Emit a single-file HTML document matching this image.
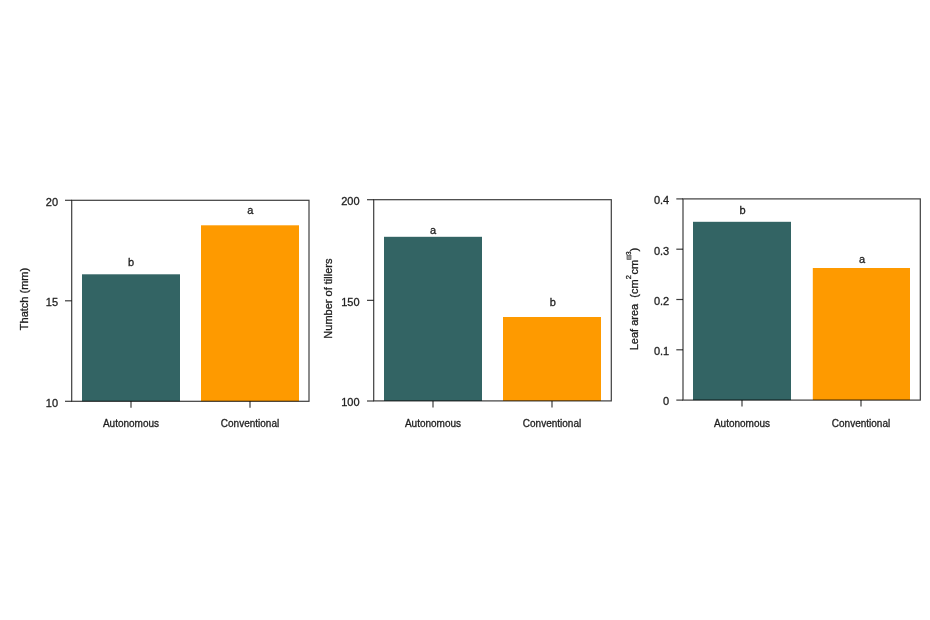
<!DOCTYPE html>
<html><head><meta charset="utf-8"><style>
html,body{margin:0;padding:0;background:#fff;}
svg{display:block;filter:blur(0.35px);}
text{font-family:"Liberation Sans",sans-serif;fill:#1e1e1e;stroke:#1e1e1e;stroke-width:0.3px;}
</style></head><body>
<svg width="930" height="620" viewBox="0 0 930 620">
<rect width="930" height="620" fill="#fff"/>

<rect x="82" y="274.3" width="98" height="127.0" fill="#336464"/>
<rect x="201" y="225.3" width="98" height="176.0" fill="#fe9a00"/>
<rect x="71.7" y="200.3" width="237.30" height="201.00" fill="none" stroke="#000" stroke-opacity="0.76" stroke-width="1.2"/>
<line x1="65.0" y1="401.3" x2="71.7" y2="401.3" stroke="#000" stroke-opacity="0.76" stroke-width="1.2"/>
<text x="58.1" y="406.60" font-size="11" text-anchor="end">10</text>
<line x1="65.0" y1="300.8" x2="71.7" y2="300.8" stroke="#000" stroke-opacity="0.76" stroke-width="1.2"/>
<text x="58.1" y="306.10" font-size="11" text-anchor="end">15</text>
<line x1="65.0" y1="200.3" x2="71.7" y2="200.3" stroke="#000" stroke-opacity="0.76" stroke-width="1.2"/>
<text x="58.1" y="205.60" font-size="11" text-anchor="end">20</text>
<line x1="131" y1="401.3" x2="131" y2="407.8" stroke="#000" stroke-opacity="0.76" stroke-width="1.2"/>
<text x="131" y="426.5" font-size="10" text-anchor="middle">Autonomous</text>
<line x1="250" y1="401.3" x2="250" y2="407.8" stroke="#000" stroke-opacity="0.76" stroke-width="1.2"/>
<text x="250" y="426.5" font-size="10" text-anchor="middle">Conventional</text>
<text x="131.1" y="265.7" font-size="11" text-anchor="middle">b</text>
<text x="250.4" y="213.9" font-size="11" text-anchor="middle">a</text>
<text transform="translate(28.0,299) rotate(-90)" font-size="11" text-anchor="middle">Thatch (mm)</text>
<rect x="384" y="236.8" width="98" height="164.09999999999997" fill="#336464"/>
<rect x="503" y="317.0" width="98" height="83.89999999999998" fill="#fe9a00"/>
<rect x="373.7" y="199.7" width="237.60" height="201.20" fill="none" stroke="#000" stroke-opacity="0.76" stroke-width="1.2"/>
<line x1="367.0" y1="401.0" x2="373.7" y2="401.0" stroke="#000" stroke-opacity="0.76" stroke-width="1.2"/>
<text x="359.5" y="406.30" font-size="11" text-anchor="end">100</text>
<line x1="367.0" y1="300.35" x2="373.7" y2="300.35" stroke="#000" stroke-opacity="0.76" stroke-width="1.2"/>
<text x="359.5" y="305.65" font-size="11" text-anchor="end">150</text>
<line x1="367.0" y1="199.7" x2="373.7" y2="199.7" stroke="#000" stroke-opacity="0.76" stroke-width="1.2"/>
<text x="359.5" y="205.00" font-size="11" text-anchor="end">200</text>
<line x1="433" y1="400.9" x2="433" y2="407.4" stroke="#000" stroke-opacity="0.76" stroke-width="1.2"/>
<text x="433" y="426.5" font-size="10" text-anchor="middle">Autonomous</text>
<line x1="552" y1="400.9" x2="552" y2="407.4" stroke="#000" stroke-opacity="0.76" stroke-width="1.2"/>
<text x="552" y="426.5" font-size="10" text-anchor="middle">Conventional</text>
<text x="433.1" y="233.7" font-size="11" text-anchor="middle">a</text>
<text x="552.9" y="306" font-size="11" text-anchor="middle">b</text>
<text transform="translate(331.8,298.6) rotate(-90)" font-size="11" text-anchor="middle">Number of tillers</text>
<rect x="693" y="221.8" width="98" height="178.3" fill="#336464"/>
<rect x="812.8" y="268.0" width="97.20000000000005" height="132.10000000000002" fill="#fe9a00"/>
<rect x="683.0" y="198.9" width="237.30" height="201.20" fill="none" stroke="#000" stroke-opacity="0.76" stroke-width="1.2"/>
<line x1="676.3" y1="400.1" x2="683.0" y2="400.1" stroke="#000" stroke-opacity="0.76" stroke-width="1.2"/>
<text x="669.2" y="405.40" font-size="11" text-anchor="end">0</text>
<line x1="676.3" y1="349.8" x2="683.0" y2="349.8" stroke="#000" stroke-opacity="0.76" stroke-width="1.2"/>
<text x="669.2" y="355.10" font-size="11" text-anchor="end">0.1</text>
<line x1="676.3" y1="299.5" x2="683.0" y2="299.5" stroke="#000" stroke-opacity="0.76" stroke-width="1.2"/>
<text x="669.2" y="304.80" font-size="11" text-anchor="end">0.2</text>
<line x1="676.3" y1="249.2" x2="683.0" y2="249.2" stroke="#000" stroke-opacity="0.76" stroke-width="1.2"/>
<text x="669.2" y="254.50" font-size="11" text-anchor="end">0.3</text>
<line x1="676.3" y1="198.9" x2="683.0" y2="198.9" stroke="#000" stroke-opacity="0.76" stroke-width="1.2"/>
<text x="669.2" y="204.20" font-size="11" text-anchor="end">0.4</text>
<line x1="742" y1="400.1" x2="742" y2="406.6" stroke="#000" stroke-opacity="0.76" stroke-width="1.2"/>
<text x="742" y="426.5" font-size="10" text-anchor="middle">Autonomous</text>
<line x1="861" y1="400.1" x2="861" y2="406.6" stroke="#000" stroke-opacity="0.76" stroke-width="1.2"/>
<text x="861" y="426.5" font-size="10" text-anchor="middle">Conventional</text>
<text x="742.6" y="213.7" font-size="11" text-anchor="middle">b</text>
<text x="862" y="263.1" font-size="11" text-anchor="middle">a</text>
<g transform="rotate(-90)">
<text x="-350.3" y="638.4" font-size="11">Leaf area&#160;&#160;(cm</text>
<text x="-279.2" y="631" font-size="7.5">2</text>
<text x="-274.6" y="638.4" font-size="11">cm</text>
<text x="-255" y="631.3" font-size="6.5">3</text>
<text x="-251.4" y="638.4" font-size="11">)</text>
</g>
<rect x="627" y="255.5" width="4" height="4" fill="#9a9a9a" stroke="#555" stroke-width="0.7"/>
</svg>
</body></html>
